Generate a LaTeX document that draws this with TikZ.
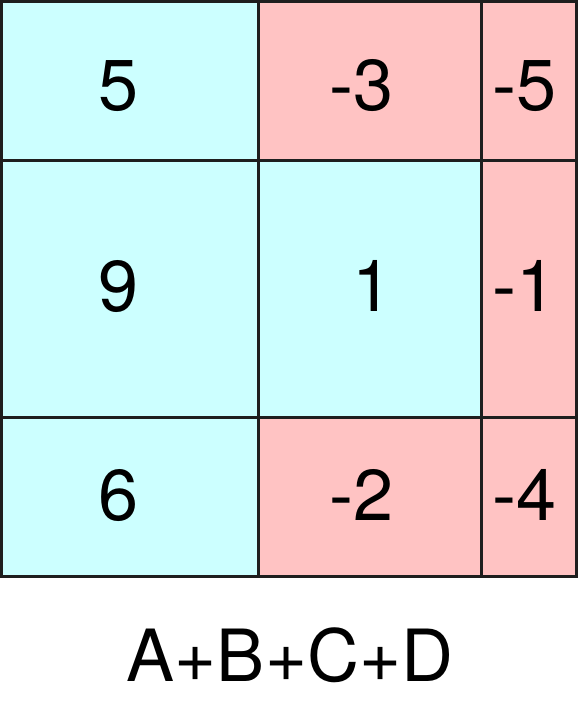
\documentclass[tikz,border=0pt]{standalone}
\usepackage{fontspec}
\setmainfont{TeX Gyre Heros}
\definecolor{cellcyan}{RGB}{204,255,255}
\definecolor{cellpink}{RGB}{255,195,195}
\definecolor{gridline}{RGB}{30,30,30}
\begin{document}
\begin{tikzpicture}[x=1pt,y=-1pt,
  numtxt/.style={anchor=base east,inner sep=0pt,font=\fontsize{72}{78}\selectfont},
  captxt/.style={anchor=base,inner sep=0pt,font=\fontsize{72}{78}\selectfont},
  gridstyle/.style={draw=gridline,line width=3pt}]
\useasboundingbox (0,0) rectangle (579,714);
% fills
\fill[cellcyan] (1.5,1.5) rectangle (258,161);
\fill[cellpink] (258,1.5) rectangle (576.5,161);
\fill[cellcyan] (1.5,161) rectangle (481,417);
\fill[cellpink] (481,161) rectangle (576.5,417);
\fill[cellcyan] (1.5,417) rectangle (258,576);
\fill[cellpink] (258,417) rectangle (576.5,576);
% grid
\draw[gridstyle] (1.5,1.5) rectangle (576.5,576);
\draw[gridstyle] (1.5,161) -- (576.5,161);
\draw[gridstyle] (1.5,417) -- (576.5,417);
\draw[gridstyle] (258,1.5) -- (258,576);
\draw[gridstyle] (481,1.5) -- (481,576);
% numbers
\node[numtxt] (a1) at (139,111) {5};
\node[numtxt] (b1) at (394,111) {-3};
\node[numtxt] (c1) at (557,111) {-5};
\node[numtxt] (a2) at (139,311) {9};
\node[numtxt] (b2) at (393,311) {1};
\node[numtxt] (c2) at (557,311) {-1};
\node[numtxt] (a3) at (139,520) {6};
\node[numtxt] (b3) at (394,520) {-2};
\node[numtxt] (c3) at (557,520) {-4};
% caption
\node[captxt] (cap) at (290,681) {A+B+C+D};
\end{tikzpicture}
\end{document}
